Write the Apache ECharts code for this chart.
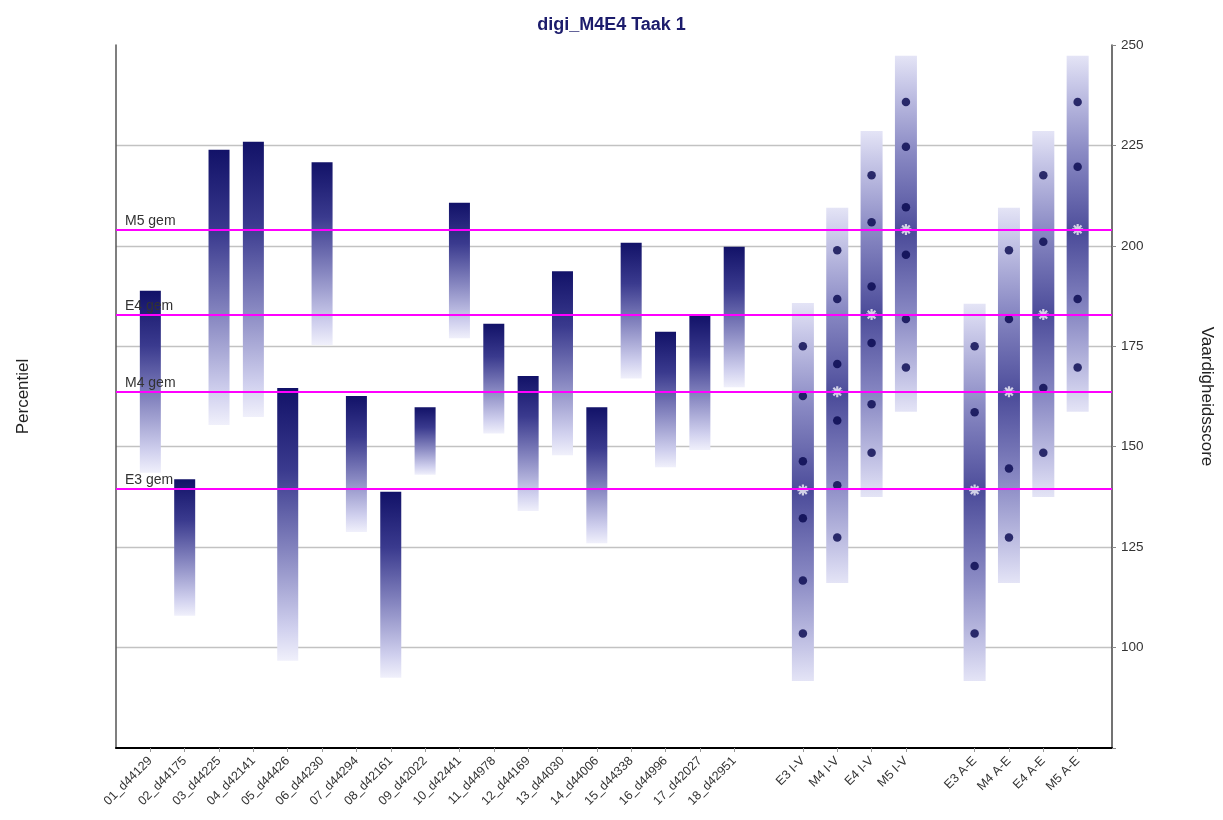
<!DOCTYPE html>
<html>
<head>
<meta charset="utf-8">
<script src="https://cdn.jsdelivr.net/npm/echarts@6/dist/echarts.min.js"></script>
<style>
html,body{margin:0;padding:0;background:#fff;}
#chart{width:1223px;height:820px;}
</style>
</head>
<body>
<div id="chart"></div>
<script>
// ---- data ----
const taskNames = ['01_d44129','02_d44175','03_d44225','04_d42141','05_d44426','06_d44230','07_d44294','08_d42161','09_d42022','10_d42441','11_d44978','12_d44169','13_d44030','14_d44006','15_d44338','16_d44996','17_d42027','18_d42951'];
const taskHigh = [188.8,141.9,223.9,225.9,164.6,220.8,162.6,138.8,159.8,210.7,180.6,167.6,193.7,159.8,200.8,178.6,182.7,199.8];
const taskLow  = [143.5,107.9,155.4,157.4,96.7,175.3,128.8,92.5,143.0,177.0,153.3,134.0,147.9,126.0,167.0,144.9,149.2,164.8];

const groupNames = ['E3 I-V','M4 I-V','E4 I-V','M5 I-V','E3 A-E','M4 A-E','E4 A-E','M5 A-E'];
const groupHigh = [185.8,209.5,228.6,247.3,185.6,209.5,228.6,247.3];
const groupLow  = [91.7,116.1,137.5,158.7,91.7,116.1,137.5,158.7];
const groupDots = [
  [175,162.6,146.4,132.2,116.7,103.5],
  [198.9,186.8,170.6,156.5,140.4,127.4],
  [217.6,205.9,189.9,175.8,160.6,148.5],
  [235.8,224.7,209.6,197.8,181.8,169.7],
  [175,158.6,120.3,103.5],
  [198.9,181.8,144.6,127.4],
  [217.6,201,164.6,148.5],
  [235.8,219.7,186.8,169.7]
];
const groupStar = [139.2,163.7,182.9,204.1,139.2,163.7,182.9,204.1];

const refNames = ['M5 gem','E4 gem','M4 gem','E3 gem'];
const refValues = [203.9,182.8,163.7,139.5];

const yTicks = [75,100,125,150,175,200,225,250];

// ---- layout of categories (blank slots between groups) ----
const categories = [''].concat(taskNames, [''], groupNames.slice(0,4), [''], groupNames.slice(4), ['']);
const taskIndex = taskNames.map((_, i) => 1 + i);
const groupIndex = groupNames.map((_, i) => i < 4 ? 20 + i : 21 + i);

const taskData = taskNames.map((_, i) => [taskIndex[i], taskLow[i], taskHigh[i]]);
const groupData = groupNames.map((_, i) => [groupIndex[i], groupLow[i], groupHigh[i]]);
const dotData = [];
groupDots.forEach((arr, i) => arr.forEach(v => dotData.push([groupIndex[i], v])));
const starData = groupStar.map((v, i) => [groupIndex[i], v]);

const FONT = 'Liberation Sans, Arial, sans-serif';

function makeRender(width, stops) {
  return function (params, api) {
    const x = api.value(0);
    const lo = api.value(1), hi = api.value(2);
    const pHi = api.coord([x, hi]);
    const pLo = api.coord([x, lo]);
    return {
      type: 'rect',
      shape: { x: pHi[0] - width / 2, y: pHi[1], width: width, height: pLo[1] - pHi[1] },
      style: { fill: new echarts.graphic.LinearGradient(0, 0, 0, 1, stops) }
    };
  };
}

const taskStops = [
  { offset: 0, color: '#121268' },
  { offset: 0.3, color: '#3a3a8e' },
  { offset: 0.6, color: '#8686c0' },
  { offset: 0.88, color: '#d0d0ee' },
  { offset: 1, color: '#f0f0fb' }
];
const groupStops = [
  { offset: 0, color: '#e4e4f6' },
  { offset: 0.08, color: '#c8c8e8' },
  { offset: 0.27, color: '#8a8ac4' },
  { offset: 0.5, color: '#4c4c9a' },
  { offset: 0.73, color: '#8a8ac4' },
  { offset: 0.92, color: '#c8c8e8' },
  { offset: 1, color: '#e4e4f6' }
];

const starPath = 'path://M-1,-5L1,-5L1,5L-1,5Z M-5,-1L5,-1L5,1L-5,1Z M-2.8,-4.2L4.2,2.8L2.8,4.2L-4.2,-2.8Z M4.2,-2.8L-2.8,4.2L-4.2,2.8L2.8,-4.2Z';

const chart = echarts.init(document.getElementById('chart'), null, { renderer: 'canvas' });
chart.setOption({
  animation: false,
  backgroundColor: '#ffffff',
  textStyle: { fontFamily: FONT },
  title: {
    text: 'digi_M4E4 Taak 1',
    left: 'center',
    top: 11,
    textStyle: { fontFamily: FONT, fontSize: 18, fontWeight: 'bold', color: '#1c1c6c' }
  },
  grid: { left: 116, right: 111, top: 45, bottom: 72, containLabel: false, outerBoundsMode: 'none' },
  xAxis: {
    type: 'category',
    data: categories,
    boundaryGap: false,
    axisLine: { show: true, lineStyle: { color: '#000', width: 2 } },
    axisTick: {
      show: true, length: 4,
      interval: (idx, val) => val !== '',
      lineStyle: { color: '#999' }
    },
    axisLabel: {
      interval: 0, rotate: 45, fontSize: 12.5, color: '#333', margin: 11, fontFamily: FONT
    },
    splitLine: { show: false }
  },
  yAxis: [
    {
      type: 'value', position: 'left', min: 75, max: 250, interval: 25,
      name: 'Percentiel', nameLocation: 'middle', nameGap: 84, nameRotate: 90,
      nameTextStyle: { fontSize: 17, color: '#222', fontFamily: FONT },
      axisLine: { show: true, lineStyle: { color: '#555', width: 1.5 } },
      axisTick: { show: false }, axisLabel: { show: false }, splitLine: { show: false }
    },
    {
      type: 'value', position: 'right', min: 75, max: 250, interval: 25,
      name: 'Vaardigheidsscore', nameLocation: 'middle', nameGap: 86, nameRotate: -90,
      nameTextStyle: { fontSize: 17, color: '#222', fontFamily: FONT },
      axisLine: { show: true, lineStyle: { color: '#444', width: 1.5 } },
      axisTick: { show: true, length: 4, lineStyle: { color: '#888' } },
      axisLabel: {
        fontSize: 13.5, color: '#333', margin: 9, fontFamily: FONT,
        formatter: v => (v === yTicks[0] ? '' : String(v))
      },
      splitLine: {
        show: true,
        lineStyle: {
          width: 1.3,
          color: yTicks.map((v, i) => (i === 0 || i === yTicks.length - 1) ? 'rgba(0,0,0,0)' : '#c2c2c2')
        }
      }
    }
  ],
  series: [
    {
      type: 'line', yAxisIndex: 1, data: [], z: 1, silent: true,
      markLine: {
        silent: true, symbol: ['none', 'none'],
        lineStyle: { color: '#ff00ff', width: 2, type: 'solid' },
        label: {
          show: true, position: 'insideStartTop', formatter: '{b}',
          color: '#333', fontSize: 14, fontFamily: FONT, distance: [9, 2]
        },
        data: refNames.map((n, i) => ({ name: n, yAxis: refValues[i] }))
      }
    },
    {
      type: 'custom', yAxisIndex: 1, z: 2,
      encode: { x: 0, y: [1, 2] },
      renderItem: makeRender(21, taskStops),
      data: taskData
    },
    {
      type: 'custom', yAxisIndex: 1, z: 2,
      encode: { x: 0, y: [1, 2] },
      renderItem: makeRender(22, groupStops),
      data: groupData
    },
    {
      type: 'scatter', yAxisIndex: 1, z: 3,
      symbol: 'circle', symbolSize: 8.5,
      itemStyle: { color: '#05054c' },
      data: dotData
    },
    {
      type: 'scatter', yAxisIndex: 1, z: 4,
      symbol: starPath, symbolSize: 11,
      itemStyle: { color: '#f2f2fa' },
      data: starData
    }
  ]
});
</script>
</body>
</html>
